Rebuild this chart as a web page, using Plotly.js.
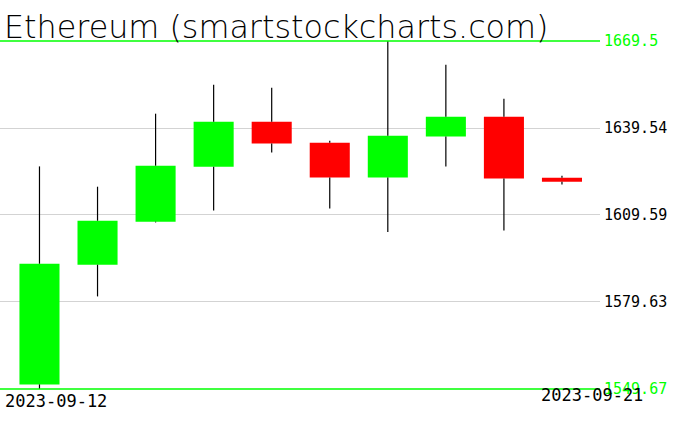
<!DOCTYPE html>
<html>
<head>
<meta charset="utf-8">
<script src="https://cdn.plot.ly/plotly-3.0.1.min.js"></script>
<style>html,body{margin:0;padding:0;background:#fff;}#chart{width:676px;height:431px;}</style>
</head>
<body>
<div id="chart"></div>
<script>
const titleText = "Ethereum (smartstockcharts.com)";
const dates = ["2023-09-12","2023-09-13","2023-09-14","2023-09-15","2023-09-16","2023-09-17","2023-09-18","2023-09-19","2023-09-20","2023-09-21"];
const openVals  = [1551.25, 1592.47, 1607.28, 1626.21, 1641.71, 1634.48, 1622.53, 1636.65, 1643.43, 1622.43];
const highVals  = [1626.32, 1619.33, 1644.47, 1654.45, 1653.42, 1635.17, 1669.50, 1661.34, 1649.63, 1623.12];
const lowVals   = [1549.67, 1581.55, 1607.03, 1611.17, 1631.14, 1611.86, 1603.73, 1626.32, 1604.28, 1620.12];
const closeVals = [1592.81, 1607.62, 1626.56, 1641.71, 1634.24, 1622.53, 1636.89, 1643.43, 1622.19, 1621.05];
const yTickLabels = ["1669.5", "1639.54", "1609.59", "1579.63", "1549.67"];

const UP = "#00ff00", DOWN = "#ff0000";
const n = dates.length;
const bodyBase = [], bodyLen = [], bodyColor = [];
const wx = [], wy = [];
for (let i = 0; i < n; i++) {
  const top = Math.max(openVals[i], closeVals[i]);
  const bot = Math.min(openVals[i], closeVals[i]);
  bodyBase.push(bot);
  bodyLen.push(top - bot);
  bodyColor.push(closeVals[i] >= openVals[i] ? UP : DOWN);
  wx.push(dates[i], dates[i], dates[i], dates[i], dates[i], dates[i]);
  wy.push(top, highVals[i], null, lowVals[i], bot, null);
}
const tickVals = yTickLabels.map(Number);
const tickText = yTickLabels.map((t, i) => (i === 0 || i === yTickLabels.length - 1) ? '<span style="fill:#00ff00">' + t + '</span>' : t);
const yMin = Math.min(...tickVals), yMax = Math.max(...tickVals);

const traces = [
  {type: "scatter", mode: "lines", x: wx, y: wy, line: {color: "#000", width: 1.2}, connectgaps: false, hoverinfo: "skip"},
  {type: "bar", x: dates, y: bodyLen, base: bodyBase, width: 0.69, marker: {color: bodyColor, line: {width: 0}}, hoverinfo: "skip"}
];

const layout = {
  width: 676, height: 431,
  margin: {l: 0, r: 76, t: 41, b: 42, pad: 0},
  paper_bgcolor: "#fff", plot_bgcolor: "#fff",
  showlegend: false,
  title: {text: titleText, x: 4/676, xref: "container", xanchor: "left", y: 1 - 26.5/431, yref: "container", yanchor: "middle",
          font: {family: "DejaVu Sans", size: 31.8, weight: 200, color: "#000"}},
  xaxis: {type: "category", range: [-0.68, 9.655], showgrid: false, zeroline: false, showticklabels: false, ticks: "",
          showline: false, fixedrange: true},
  yaxis: {side: "right", range: [yMin, yMax], tickvals: tickVals, ticktext: tickText, ticks: "",
          showgrid: true, gridcolor: "#d3d3d3", gridwidth: 1, zeroline: false, showline: false,
          ticklabelstandoff: 3, ticklabelshift: 4.5,
          tickfont: {family: "DejaVu Sans Mono", size: 15, color: "#000"}, fixedrange: true},
  shapes: [
    {type: "line", xref: "paper", yref: "paper", x0: 0, x1: 1, y0: 1, y1: 1, layer: "above", line: {color: UP, width: 1.6}},
    {type: "line", xref: "paper", yref: "paper", x0: 0, x1: 1, y0: 0, y1: 0, layer: "above", line: {color: UP, width: 1.6}}
  ],
  annotations: [
    {text: dates[0], xref: "paper", yref: "paper", x: 0, y: 0, xanchor: "left", yanchor: "middle", xshift: 3, yshift: -11.5,
     showarrow: false, font: {family: "DejaVu Sans Mono", size: 17, color: "#000"}},
    {text: dates[n - 1], xref: "paper", yref: "paper", x: 1, y: 0, xanchor: "right", yanchor: "middle", xshift: 45, yshift: -6,
     showarrow: false, font: {family: "DejaVu Sans Mono", size: 17, color: "#000"}}
  ]
};

Plotly.newPlot("chart", traces, layout, {staticPlot: true, displayModeBar: false});
</script>
</body>
</html>
